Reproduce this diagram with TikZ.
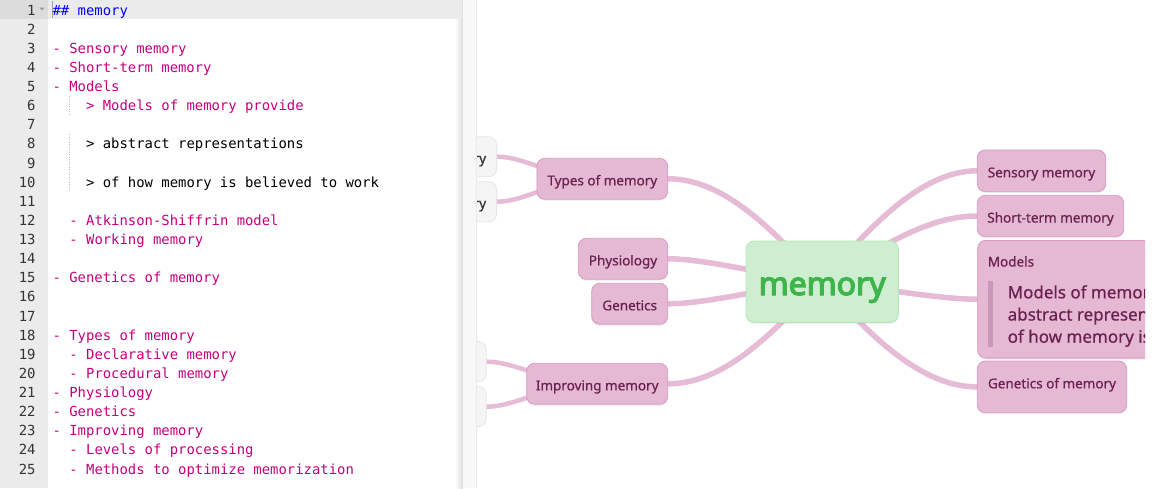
\documentclass[tikz,border=0pt]{standalone}
\usepackage{fontspec}
\setmainfont{Noto Sans}
\newfontfamily\codefont{DejaVu Sans Mono}
\newfontfamily\mapfont[FakeBold=0.6]{Noto Sans}
\newfontfamily\rootfont[FakeBold=4]{Noto Sans}
\usetikzlibrary{calc,shadows}
\pgfdeclarelayer{bg}
\pgfdeclarelayer{edges}
\pgfsetlayers{bg,edges,main}
\definecolor{gutterc}{HTML}{EBEBEB}
\definecolor{gutterhl}{HTML}{DCDCDC}
\definecolor{rowhl}{HTML}{EBEBEB}
\definecolor{codeblue}{HTML}{0000FF}
\definecolor{codemag}{HTML}{C5007F}
\definecolor{numgray}{HTML}{333333}
\definecolor{guidec}{HTML}{BBBBBB}
\definecolor{boxfill}{HTML}{E5B8D3}
\definecolor{boxborder}{HTML}{D89BC4}
\definecolor{boxtext}{HTML}{6B2150}
\definecolor{edgec}{HTML}{E6BBD5}
\definecolor{ghostfill}{HTML}{F5F5F5}
\definecolor{ghostborder}{HTML}{E6E6E6}
\definecolor{ghosttext}{HTML}{333333}
\definecolor{rootfill}{HTML}{CDEED0}
\definecolor{rootborder}{HTML}{B3E6B8}
\definecolor{roottext}{HTML}{3DB54A}
\definecolor{quotebar}{HTML}{C898B8}
\definecolor{stripc}{HTML}{F8F8F8}
\tikzset{
  codeline/.style={anchor=base west, inner sep=0pt, font=\codefont\fontsize{13.9}{16}\selectfont},
  magline/.style={codeline, text=codemag},
  blkline/.style={codeline, text=black},
  blueline/.style={codeline, text=codeblue},
  lineno/.style={anchor=base east, inner sep=0pt, text=numgray, font=\codefont\fontsize{13.9}{16}\selectfont},
  mapbox/.style={draw=boxborder, fill=boxfill, line width=0.8pt, rounded corners=8pt,
    text=boxtext, font=\mapfont\fontsize{13.5}{16}\selectfont, inner sep=0pt,
    text height=13pt, text depth=0pt,
    drop shadow={opacity=0.10, shadow xshift=0pt, shadow yshift=-1.5pt}},
  ghostbox/.style={draw=ghostborder, fill=ghostfill, line width=0.8pt, rounded corners=8pt,
    text=ghosttext, font=\mapfont\fontsize{13.5}{16}\selectfont, inner xsep=10.5pt, inner ysep=0pt,
    text height=13pt, text depth=0pt, minimum height=40pt},
  rootbox/.style={draw=rootborder, fill=rootfill, line width=0.8pt, rounded corners=8pt,
    text=roottext, font=\rootfont\fontsize{32}{36}\selectfont, inner sep=0pt,
    text height=26.6pt, text depth=0pt,
    drop shadow={opacity=0.10, shadow xshift=0pt, shadow yshift=-1.5pt}},
  rootedge/.style={draw=edgec, line width=5.5pt, line cap=round},
  childedge/.style={draw=edgec, line width=4.5pt, line cap=round},
  maptext/.style={anchor=base west, inner sep=0pt, text=boxtext, font=\mapfont\fontsize{13.5}{16}\selectfont},
}
\begin{document}
\begin{tikzpicture}[x=1pt,y=-1pt]
\useasboundingbox (0,0) rectangle (1156,488);
\begin{pgfonlayer}{bg}
\fill[white] (0,0) rectangle (1156,488);
\end{pgfonlayer}

% ---------------- editor ----------------
\fill[gutterc] (0,0) rectangle (48,488);
\fill[gutterhl] (0,0) rectangle (48,19);
\fill[rowhl] (48,0) rectangle (462,19);
\draw[gray!70, line width=0.8pt] (52.6,1) -- (52.6,18);
\fill[gray!80] (39.5,7.5) -- (44.5,7.5) -- (42,10.5) -- cycle;

\foreach \n in {1,...,25}{
  \node[lineno] (ln\n) at (35.8,{15+(\n-1)*19.125}) {\n};
}

% indent guides
\draw[guidec, line width=0.8pt, dash pattern=on 1pt off 1.5pt] (69.5,96) -- (69.5,115);
\draw[guidec, line width=0.8pt, dash pattern=on 1pt off 1.5pt] (69.5,134) -- (69.5,191);

\node[blueline] (c1) at (52.4,15) {\#\# memory};
\node[magline] (c3) at (52.4,{15+2*19.125}) {- Sensory memory};
\node[magline] (c4) at (52.4,{15+3*19.125}) {- Short-term memory};
\node[magline] (c5) at (52.4,{15+4*19.125}) {- Models};
\node[magline] (c6) at (85.9,{15+5*19.125}) {> Models of memory provide};
\node[blkline] (c8) at (85.9,{15+7*19.125}) {> abstract representations};
\node[blkline] (c10) at (85.9,{15+9*19.125}) {> of how memory is believed to work};
\node[magline] (c12) at (69.2,{15+11*19.125}) {- Atkinson-Shiffrin model};
\node[magline] (c13) at (69.2,{15+12*19.125}) {- Working memory};
\node[magline] (c15) at (52.4,{15+14*19.125}) {- Genetics of memory};
\node[magline] (c18) at (52.4,{15+17*19.125}) {- Types of memory};
\node[magline] (c19) at (69.2,{15+18*19.125}) {- Declarative memory};
\node[magline] (c20) at (69.2,{15+19*19.125}) {- Procedural memory};
\node[magline] (c21) at (52.4,{15+20*19.125}) {- Physiology};
\node[magline] (c22) at (52.4,{15+21*19.125}) {- Genetics};
\node[magline] (c23) at (52.4,{15+22*19.125}) {- Improving memory};
\node[magline] (c24) at (69.2,{15+23*19.125}) {- Levels of processing};
\node[magline] (c25) at (69.2,{15+24*19.125}) {- Methods to optimize memorization};

% ---------------- mind map ----------------
\begin{scope}
\clip (476,0) rectangle (1145,488);
\node[rootbox, minimum width=152.3pt, minimum height=81.3pt] (root) at (822.2,281.7) {memory};

\node[mapbox, minimum width=130.7pt, minimum height=41pt] (types) at (602.3,178.8) {Types of memory};
\node[mapbox, minimum width=89.4pt, minimum height=41pt] (phys) at (623,258.8) {Physiology};
\node[mapbox, minimum width=76pt, minimum height=41pt] (gen) at (629.7,303.8) {Genetics};
\node[mapbox, minimum width=141pt, minimum height=41pt] (impr) at (597.2,383.8) {Improving memory};

\node[ghostbox, anchor=east] (decl) at (497,156.7) {Declarative memory};
\node[ghostbox, anchor=east] (proc) at (497,201.7) {Procedural memory};
\node[ghostbox, anchor=east] (levels) at (486.7,361.7) {Levels of processing};
\node[ghostbox, anchor=east] (methods) at (486.7,406.7) {Methods to optimize memorization};

\node[mapbox, minimum width=128.4pt, minimum height=41.7pt] (sens) at (1041.5,170.8) {Sensory memory};
\node[mapbox, minimum width=146.4pt, minimum height=41.4pt] (short) at (1050.5,216) {Short-term memory};
\node[mapbox, anchor=north west, minimum width=300pt, minimum height=117.7pt] (models) at (977.3,240) {};
\node[maptext] (modtitle) at (987.6,266.5) {Models};
\fill[quotebar] (988.3,280.7) rectangle (993.3,346.7);
\node[anchor=base west, inner sep=0pt, text=boxtext] (quote) at (1007.5,298.3)
  {\parbox[t]{320pt}{\mapfont\fontsize{17}{22.2}\selectfont\raggedright Models of memory provide\\abstract representations\\of how memory is believed to work}};
\node[mapbox, minimum width=149.4pt, minimum height=51.7pt, text height=10pt, text depth=7.2pt] (genmem) at (1052,386.9) {Genetics of memory};
\end{scope}

\begin{pgfonlayer}{edges}
\draw[rootedge] (root.center) .. controls +(-45,-45) and +(60,0) .. (types.east);
\draw[rootedge] (root.center) .. controls +(-50,-5) and +(40,0) .. (phys.east);
\draw[rootedge] (root.center) .. controls +(-50,5) and +(40,0) .. (gen.east);
\draw[rootedge] (root.center) .. controls +(-45,45) and +(60,0) .. (impr.east);
\draw[rootedge] (root.center) .. controls +(40,-45) and +(-60,0) .. (sens.west);
\draw[rootedge] (root.center) .. controls +(60,-35) and +(-50,0) .. (short.west);
\draw[rootedge] (root.center) .. controls +(50,5) and +(-40,0) .. (models.west);
\draw[rootedge] (root.center) .. controls +(40,45) and +(-60,0) .. (genmem.west);
\draw[childedge] (types.center) .. controls +(-50,0) and +(30,0) .. (decl.east);
\draw[childedge] (types.center) .. controls +(-50,0) and +(30,0) .. (proc.east);
\draw[childedge] (impr.center) .. controls +(-50,0) and +(30,0) .. (levels.east);
\draw[childedge] (impr.center) .. controls +(-50,0) and +(30,0) .. (methods.east);
\end{pgfonlayer}

% separator strip between editor and mind map
\shade[left color=white, right color=black!14] (455,0) rectangle (463,488);
\fill[stripc] (463,0) rectangle (476,488);
\fill[rowhl] (455,0) rectangle (462,19);
\draw[black!8, line width=0.8pt] (476,0) -- (476,488);
\end{tikzpicture}
\end{document}
